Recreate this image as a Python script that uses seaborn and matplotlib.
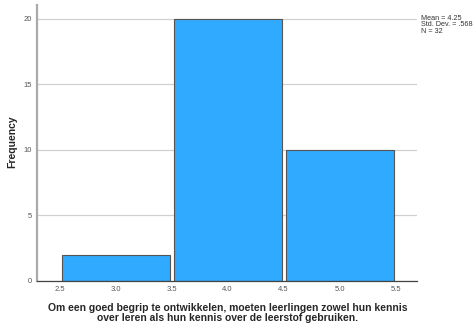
import matplotlib
matplotlib.use("Agg")
import matplotlib.pyplot as plt
import seaborn as sns

# answer scores and how many respondents gave each
scores = [3.0, 4.0, 5.0]
counts = [2, 20, 10]
bin_edges = [2.5, 3.5, 4.5, 5.5]
x_ticks = [2.5, 3.0, 3.5, 4.0, 4.5, 5.0, 5.5]
y_ticks = [0, 5, 10, 15, 20]
stats_text = "Mean = 4.25\nStd. Dev. = .568\nN = 32"
x_title = ("Om een goed begrip te ontwikkelen, moeten leerlingen zowel hun kennis\n"
           "over leren als hun kennis over de leerstof gebruiken.")

sns.set_style("white")
plt.rcParams["font.family"] = ["Liberation Sans", "DejaVu Sans"]

fig = plt.figure(figsize=(4.77, 3.27), dpi=100)
ax = fig.add_axes([0.078, 0.141, 0.796, 0.844])

ax.yaxis.grid(True, color="#d0d0d0", linewidth=0.9)
ax.set_axisbelow(True)

sns.histplot(x=scores, weights=counts, bins=bin_edges, shrink=0.965,
             color="#30aaff", alpha=1, edgecolor="#555555", linewidth=0.8, ax=ax)

ax.set_xlim(2.30, 5.69)
ax.set_ylim(0, 21.07)
ax.set_xticks(x_ticks)
ax.set_xticklabels([f"{t:.1f}" for t in x_ticks])
ax.set_yticks(y_ticks)
ax.tick_params(axis="both", labelsize=5.5, colors="#555555", length=0, pad=4)

for side in ["top", "right"]:
    ax.spines[side].set_visible(False)
ax.spines["left"].set_color("#aaaaaa")
ax.spines["left"].set_linewidth(1.6)
ax.spines["bottom"].set_color("#444444")
ax.spines["bottom"].set_linewidth(0.9)

ax.set_xlabel("")
ax.set_ylabel("")
fig.text(12 / 477, 1 - 142 / 327, "Frequency", rotation=90, fontsize=7.5,
         fontweight="bold", ha="center", va="center")
fig.text(228 / 477, 1 - 313 / 327, x_title, fontsize=7.5, fontweight="bold",
         ha="center", va="center", linespacing=1.05, multialignment="center")

fig.text(0.882, 0.955, stats_text, fontsize=5.2, color="#333333",
         va="top", ha="left", linespacing=0.95)

fig.savefig("out.png", dpi=100)
